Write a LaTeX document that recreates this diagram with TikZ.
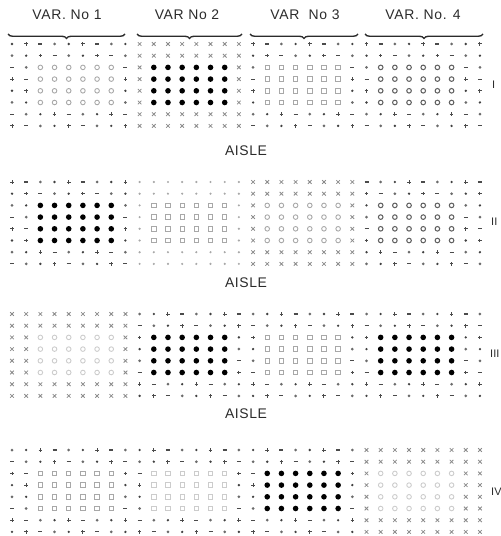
\documentclass[tikz,border=0pt]{standalone}
\usepackage{fontspec}
\setmainfont{Liberation Sans}
\usetikzlibrary{decorations.pathreplacing}
\definecolor{ink}{HTML}{2B2B2B}
\definecolor{midgray}{HTML}{8A8A8A}
\definecolor{lgray}{HTML}{A8A8A8}
\definecolor{fgray}{HTML}{CCCCCC}
\tikzset{
  lbl/.style={font=\fontsize{14}{15}\selectfont\addfontfeatures{LetterSpace=5}, text=ink, inner sep=0pt},
  aisle/.style={font=\fontsize{14}{15}\selectfont\addfontfeatures{LetterSpace=4}, text=ink, inner sep=0pt},
  blk/.style={font=\fontsize{11}{12}\selectfont, text=ink, inner sep=0pt, anchor=west},
  bracestyle/.style={decorate, decoration={brace, amplitude=4.5}, line width=1.4, draw=ink},
}
\newcommand\cellmark[4]{%
  \ifcase#3\relax
  \or % 1 small dark mark
    \ifcase#4\relax
      \fill[ink!90] (#1,#2) circle (1.3);
    \or
      \draw[ink!85, line width=1] (#1-1.8,#2) -- (#1+1.8,#2) (#1,#2-1.8) -- (#1,#2+1.8);
    \or
      \draw[ink!85, line width=1.1] (#1-2,#2) -- (#1+2,#2);
    \else
      \fill[ink!70] (#1,#2) circle (1.5);
    \fi
  \or % 2 grey x
    \draw[midgray, line width=0.8] (#1-1.8,#2-1.8) -- (#1+1.8,#2+1.8) (#1-1.8,#2+1.8) -- (#1+1.8,#2-1.8);
  \or % 3 big black dot
    \fill[black] (#1,#2) circle (2.8);
  \or % 4 grey circle
    \draw[lgray, line width=0.9] (#1,#2) circle (2.3);
  \or % 5 grey square
    \draw[lgray, line width=0.9] (#1-2.2,#2-2.2) rectangle (#1+2.2,#2+2.2);
  \or % 6 faint square
    \draw[fgray, line width=0.9] (#1-2.2,#2-2.2) rectangle (#1+2.2,#2+2.2);
  \or % 7 darker circle
    \draw[midgray!70!black, line width=1.05] (#1,#2) circle (2.3);
  \or % 8 faint circle
    \draw[fgray, line width=0.9] (#1,#2) circle (2.3);
  \or % 9 light small dot
    \fill[lgray] (#1,#2) circle (1.2);
  \fi}
\begin{document}
\begin{tikzpicture}[x=1bp, y=-1bp]
\useasboundingbox (0,0) rectangle (501,536);
% variety labels
\node[lbl] (v1) at (67,15) {VAR. No 1};
\node[lbl] (v2) at (187,15) {VAR No 2};
\node[lbl] (v3) at (305,15) {VAR\ \ No 3};
\node[lbl] (v4) at (423,15) {VAR. No. 4};
% braces
\coordinate (b1l) at (8,34);   \coordinate (b1r) at (125,34);
\coordinate (b2l) at (137,34); \coordinate (b2r) at (242,34);
\coordinate (b3l) at (250,34); \coordinate (b3r) at (358,34);
\coordinate (b4l) at (365,34); \coordinate (b4r) at (483,34);
\draw[bracestyle] (b1r) -- (b1l);
\draw[bracestyle] (b2r) -- (b2l);
\draw[bracestyle] (b3r) -- (b3l);
\draw[bracestyle] (b4r) -- (b4l);
% aisles
\node[aisle] (a1) at (246,151) {AISLE};
\node[aisle] (a2) at (246,283) {AISLE};
\node[aisle] (a3) at (246,414) {AISLE};
% block numerals
\node[blk] (r1) at (492,85) {I};
\node[blk] (r2) at (491,222) {II};
\node[blk] (r3) at (490,354) {III};
\node[blk] (r4) at (491,492) {IV};
% plots
\foreach \b in {0,...,3} {
  \pgfmathsetmacro\ytop{{44,182,314,450}[\b]}
  \foreach \r in {1,...,8} {
    \pgfmathsetmacro\yy{\ytop+(\r-1)*11.7}
    \foreach \c in {1,...,34} {
      \pgfmathsetmacro\xx{12+(\c-1)*14.18}
      \pgfmathtruncatemacro\p{\c<=9 ? 0 : (\c<=17 ? 1 : (\c<=25 ? 2 : 3))}
      \pgfmathtruncatemacro\cstart{{3,11,19,27}[\p]}
      \pgfmathtruncatemacro\inside{and(and(\r>=3,\r<=6),and(\c>=\cstart,\c<=\cstart+5))}
      \pgfmathtruncatemacro\idx{\b*4+\p}
      \pgfmathtruncatemacro\ti{{4,3,5,7,3,5,4,7,8,3,5,3,5,6,3,8}[\idx]}
      \pgfmathtruncatemacro\tg{{1,2,1,1,1,9,2,1,2,1,1,1,1,1,1,2}[\idx]}
      \pgfmathtruncatemacro\t{\inside==1 ? \ti : \tg}
      \pgfmathtruncatemacro\v{mod(\r*7+\c*13+\b*5,4)}
      \cellmark{\xx}{\yy}{\t}{\v}
    }
  }
}
\end{tikzpicture}
\end{document}
